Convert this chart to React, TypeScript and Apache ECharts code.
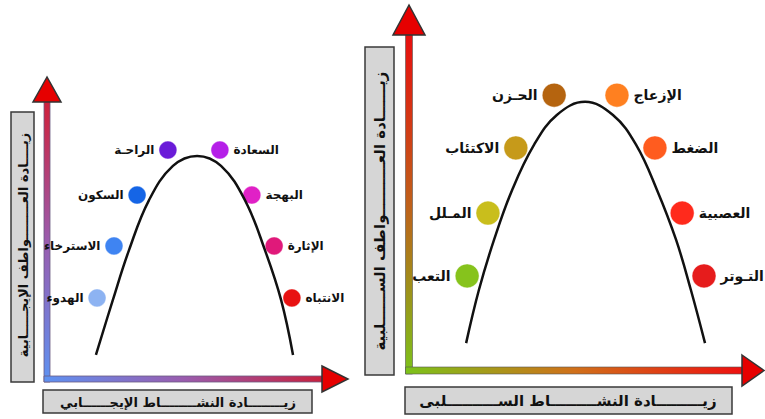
import React, { useEffect, useRef } from "react";
import * as echarts from "echarts";

// Positive emotions panel (left)
const posLabels = ["الهدوء", "الاسترخاء", "السكون", "الراحـة", "السعادة", "البهجة", "الإثارة", "الانتباه"];
const posX = [18.0, 24.1, 32.4, 43.5, 62.2, 73.7, 81.7, 88.1];
const posY = [28.8, 47.5, 65.8, 82.0, 82.0, 65.8, 47.5, 28.8];
const posCurveX = [17.6, 23.7, 29.5, 36.7, 45.3, 54.0, 62.6, 71.2, 78.4, 84.2, 88.5];
const posCurveY = [8.3, 28.1, 46.0, 64.0, 76.3, 79.9, 76.3, 64.0, 46.0, 28.1, 8.3];
const posPeakX = 54.0;

// Negative emotions panel (right)
const negLabels = ["التعب", "المـلل", "الاكتئاب", "الحـزن", "الإزعاج", "الضغط", "العصبية", "التـوتر"];
const negX = [17.3, 23.5, 31.8, 43.2, 61.9, 73.2, 81.3, 87.8];
const negY = [28.3, 47.0, 66.4, 82.1, 82.1, 66.4, 47.0, 28.3];
const negCurveX = [17.0, 20.8, 25.3, 30.7, 37.2, 44.0, 52.4, 60.7, 67.6, 73.8, 79.5, 83.9, 88.1];
const negCurveY = [8.3, 24.1, 39.0, 53.9, 67.3, 76.2, 80.1, 76.2, 67.3, 53.9, 39.0, 24.1, 8.3];
const negPeakX = 52.4;

// Axis titles
const posYTitle = "زيــــادة العــــــــواطف الإيجـــــابية";
const posXTitle = "زيــــــــادة النشــــــــاط الإيجــــــابي";
const negYTitle = "زيــــــادة العــــــــــواطف الســــــلبية";
const negXTitle = "زيـــــــــادة النشـــــــــاط الســــــــــلبى";

const posColors = ["#8db3f2", "#3f84f2", "#1565e6", "#6a1bd8", "#b51fe8", "#e021c6", "#e0197a", "#e81212"];
const negColors = ["#86c31c", "#c9be1c", "#c69a1a", "#b5640f", "#ff8020", "#ff5c1f", "#ff2a1c", "#e61c1c"];

const FONT = '"DejaVu Sans", sans-serif';

function dots(labels: string[], xs: number[], ys: number[], colors: string[], peak: number) {
  return labels.map((name, i) => ({
    name,
    value: [xs[i], ys[i]],
    itemStyle: { color: colors[i] },
    label: { position: xs[i] < peak ? "left" : "right" },
  }));
}

function curve(xs: number[], ys: number[]) {
  return xs.map((x, i) => [x, ys[i]]);
}

export default function App() {
  const ref = useRef<HTMLDivElement>(null);
  useEffect(() => {
    if (!ref.current) return;
    const chart = echarts.init(ref.current, undefined, { renderer: "svg" });
    const G = echarts.graphic.LinearGradient;
    const boxStyle = { fill: "#d6d6d6", stroke: "#3a3a3a", lineWidth: 1.5 };
    const arrowStyle = { fill: "#e60000", stroke: "#333", lineWidth: 1.5 };
    chart.setOption({
      animation: false,
      backgroundColor: "#ffffff",
      grid: [
        { left: 47, top: 100, width: 278, height: 278 },
        { left: 409, top: 35, width: 336, height: 336 },
      ],
      xAxis: [
        { gridIndex: 0, type: "value", min: 0, max: 100, show: false },
        { gridIndex: 1, type: "value", min: 0, max: 100, show: false },
      ],
      yAxis: [
        { gridIndex: 0, type: "value", min: 0, max: 100, show: false },
        { gridIndex: 1, type: "value", min: 0, max: 100, show: false },
      ],
      series: [
        {
          type: "line",
          xAxisIndex: 0,
          yAxisIndex: 0,
          data: curve(posCurveX, posCurveY),
          smooth: 0.4,
          showSymbol: false,
          lineStyle: { color: "#111", width: 2.5 },
        },
        {
          type: "line",
          xAxisIndex: 1,
          yAxisIndex: 1,
          data: curve(negCurveX, negCurveY),
          smooth: 0.4,
          showSymbol: false,
          lineStyle: { color: "#111", width: 2.5 },
        },
        {
          type: "scatter",
          xAxisIndex: 0,
          yAxisIndex: 0,
          symbolSize: 18,
          data: dots(posLabels, posX, posY, posColors, posPeakX),
          itemStyle: { opacity: 1, borderColor: "rgba(255,255,255,0.5)", borderWidth: 1 },
          label: {
            show: true,
            formatter: "{b}",
            fontFamily: FONT,
            fontWeight: "bold",
            fontSize: 12,
            color: "#111",
            distance: 4,
          },
        },
        {
          type: "scatter",
          xAxisIndex: 1,
          yAxisIndex: 1,
          symbolSize: 24,
          data: dots(negLabels, negX, negY, negColors, negPeakX),
          itemStyle: { opacity: 1, borderColor: "rgba(255,255,255,0.5)", borderWidth: 1 },
          label: {
            show: true,
            formatter: "{b}",
            fontFamily: FONT,
            fontWeight: "bold",
            fontSize: 14,
            color: "#111",
            distance: 4,
          },
        },
      ],
      graphic: [
        // Left panel boxes
        { type: "rect", shape: { x: 11, y: 112, width: 23, height: 270 }, style: boxStyle },
        { type: "rect", shape: { x: 43, y: 390, width: 269, height: 23 }, style: boxStyle },
        {
          type: "text", x: 23, y: 245, rotation: Math.PI / 2,
          style: { text: posYTitle, font: `bold 13px ${FONT}`, fill: "#111", align: "center", verticalAlign: "middle" },
        },
        {
          type: "text", x: 178, y: 402,
          style: { text: posXTitle, font: `bold 13px ${FONT}`, fill: "#111", align: "center", verticalAlign: "middle" },
        },
        // Left panel axes
        {
          type: "rect", shape: { x: 44, y: 100, width: 6, height: 282 },
          style: {
            fill: new G(0, 0, 0, 1, [
              { offset: 0, color: "#d0203a" },
              { offset: 0.5, color: "#9a5cae" },
              { offset: 1, color: "#5e92f2" },
            ]),
            stroke: "#6a5a80", lineWidth: 0.8,
          },
        },
        {
          type: "rect", shape: { x: 44, y: 376, width: 280, height: 6 },
          style: {
            fill: new G(0, 0, 1, 0, [
              { offset: 0, color: "#5e92f2" },
              { offset: 0.5, color: "#9a5cae" },
              { offset: 1, color: "#c8203c" },
            ]),
            stroke: "#6a5a80", lineWidth: 0.8,
          },
        },
        { type: "polygon", shape: { points: [[47, 77], [33, 102], [61, 102]] }, style: arrowStyle },
        { type: "polygon", shape: { points: [[322, 366], [348, 379], [322, 392]] }, style: arrowStyle },
        // Right panel boxes
        { type: "rect", shape: { x: 365, y: 47, width: 29, height: 328 }, style: boxStyle },
        { type: "rect", shape: { x: 405, y: 387, width: 327, height: 27 }, style: boxStyle },
        {
          type: "text", x: 379.5, y: 211, rotation: Math.PI / 2,
          style: { text: negYTitle, font: `bold 15px ${FONT}`, fill: "#111", align: "center", verticalAlign: "middle" },
        },
        {
          type: "text", x: 568, y: 401,
          style: { text: negXTitle, font: `bold 15px ${FONT}`, fill: "#111", align: "center", verticalAlign: "middle" },
        },
        // Right panel axes
        {
          type: "rect", shape: { x: 405.5, y: 33, width: 7, height: 341 },
          style: {
            fill: new G(0, 0, 0, 1, [
              { offset: 0, color: "#e80e0e" },
              { offset: 0.5, color: "#c0601a" },
              { offset: 1, color: "#7cc21a" },
            ]),
            stroke: "#555", lineWidth: 0.6,
          },
        },
        {
          type: "rect", shape: { x: 405.5, y: 367, width: 338, height: 7 },
          style: {
            fill: new G(0, 0, 1, 0, [
              { offset: 0, color: "#7cc21a" },
              { offset: 0.5, color: "#d0701a" },
              { offset: 1, color: "#ee1010" },
            ]),
            stroke: "#555", lineWidth: 0.6,
          },
        },
        { type: "polygon", shape: { points: [[409, 5], [393, 35], [425, 35]] }, style: arrowStyle },
        { type: "polygon", shape: { points: [[742, 355], [764, 370.5], [742, 386]] }, style: arrowStyle },
      ],
    });
    return () => chart.dispose();
  }, []);
  return (
    <div
      ref={ref}
      style={{ position: "fixed", left: 0, top: 0, width: 765, height: 419, background: "#fff" }}
    />
  );
}
